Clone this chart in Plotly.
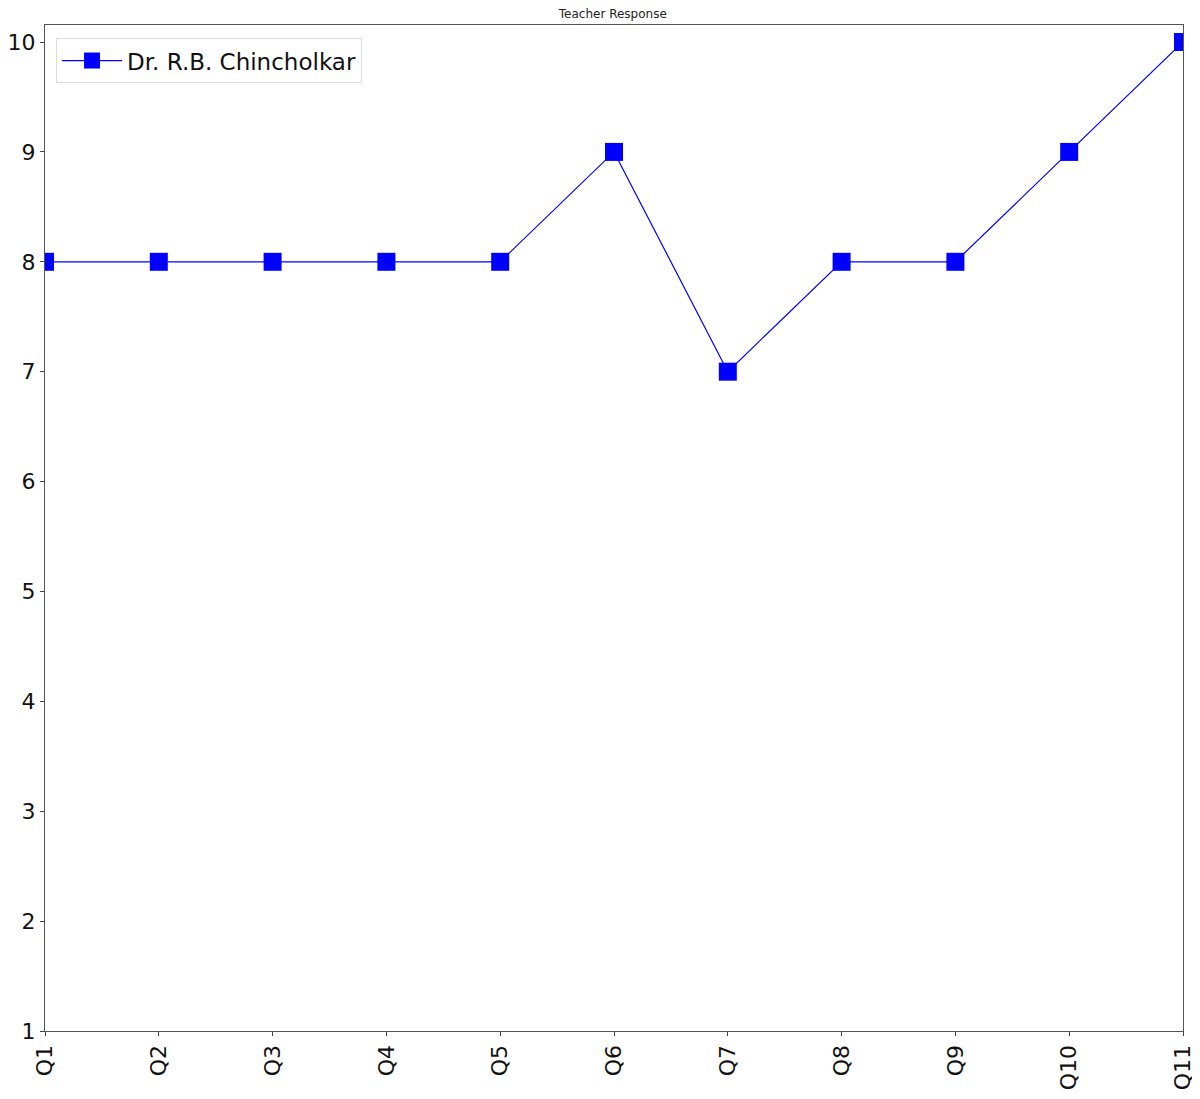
import plotly.graph_objects as go

questions = ["Q1", "Q2", "Q3", "Q4", "Q5", "Q6", "Q7", "Q8", "Q9", "Q10", "Q11"]
scores = [8, 8, 8, 8, 8, 9, 7, 8, 8, 9, 10]
series_name = "Dr. R.B. Chincholkar"
y_ticks = [1, 2, 3, 4, 5, 6, 7, 8, 9, 10]

fig = go.Figure()
fig.add_trace(go.Scatter(
    x=questions, y=scores, mode="lines+markers", name=series_name,
    line=dict(color="#0000ff", width=1.2),
    marker=dict(symbol="square", size=18, color="#0000ff"),
    cliponaxis=True,
))

font_family = "DejaVu Sans, sans-serif"
fig.update_layout(
    width=1200, height=1099,
    paper_bgcolor="white", plot_bgcolor="white",
    margin=dict(l=37, r=25, t=17, b=76, autoexpand=False),
    title=dict(text="Teacher Response", x=0.504, xanchor="center", y=0.9945, yanchor="middle",
               font=dict(family=font_family, size=12, color="#222")),
    showlegend=True,
    legend=dict(x=0.0097, y=0.987, xanchor="left", yanchor="top", itemwidth=60,
                bgcolor="rgba(255,255,255,0.8)", bordercolor="#dddddd", borderwidth=1,
                font=dict(family=font_family, size=23, color="#111")),
    font=dict(family=font_family, color="#111"),
)
fig.update_xaxes(
    type="category", categoryorder="array", categoryarray=questions, automargin=False,
    range=[0, 10], tickangle=-90, ticks="outside", ticklen=4, tickwidth=1, tickcolor="#444",
    tickfont=dict(family=font_family, size=22, color="#111"),
    showgrid=False, zeroline=False, showline=True, linecolor="#555", linewidth=1.2, mirror=True,
)
fig.update_yaxes(
    range=[1, 10.155], tickvals=y_ticks, ticks="outside", ticklen=4, tickwidth=1, tickcolor="#444",
    automargin=False,
    tickfont=dict(family=font_family, size=22, color="#111"),
    showgrid=False, zeroline=False, showline=True, linecolor="#555", linewidth=1.2, mirror=True,
)

fig.write_html("out.html")
